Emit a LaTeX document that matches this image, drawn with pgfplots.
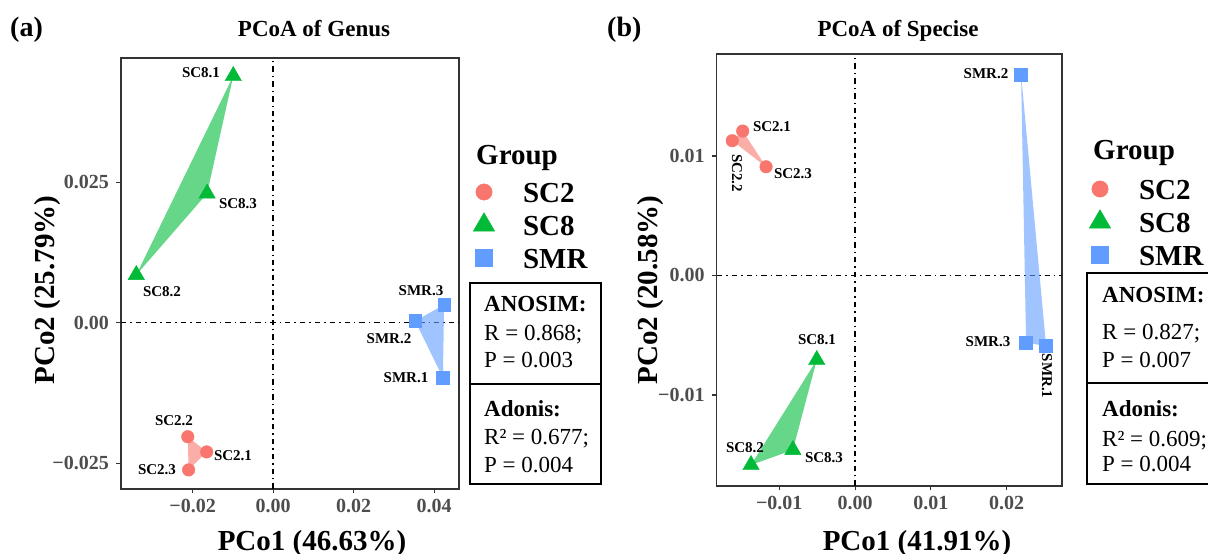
\documentclass[border=0pt]{standalone}
\usepackage{fontspec}
\setmainfont{Liberation Serif}
\usepackage{pgfplots}
\pgfplotsset{compat=1.18}
\definecolor{cSC2}{HTML}{F8766D}
\definecolor{cSC8}{HTML}{00BA38}
\definecolor{cSMR}{HTML}{619CFF}
\definecolor{tickgray}{HTML}{4D4D4D}
\definecolor{framegray}{HTML}{333333}
\newcommand{\fs}[1]{\fontsize{#1}{#1}\selectfont}
\pgfplotsset{
  pcoa/.style={
    scale only axis, clip=false, scaled ticks=false,
    axis line style={framegray, line width=1.1pt},
    tick align=outside, tick pos=left, major tick length=4.5pt,
    every tick/.style={framegray, line width=1.1pt},
    ticklabel style={font=\fs{20}\bfseries, text=tickgray, inner sep=0pt},
    xticklabel style={yshift=-5.5pt},
    yticklabel style={xshift=-7.5pt},
    legend cell align=left,
    legend image code/.code={\path[draw=none, fill=none] (-12pt,-4pt) rectangle (12pt,22pt);
      \draw[##1, mark size=1.3*\pgfplotmarksize] plot coordinates {(0pt,1pt)};},
    legend style={anchor=north west, draw=none, fill=none, inner sep=0pt, outer sep=0pt,
      row sep=-2pt, column sep=27pt, font=\fs{29}\bfseries,
      nodes={inner sep=0pt, outer sep=0pt, text height=22pt, text depth=4pt}},
  },
  hull/.style={draw=none, fill=#1, fill opacity=0.6, forget plot},
  zline/.style={black, line width=1.2pt, dash pattern=on 5.5pt off 4pt on 1.4pt off 4pt, forget plot},
}
\tikzset{plab/.style={font=\fs{15}\bfseries, inner sep=0pt},
  boxt/.style={font=\fs{23}, anchor=base west, inner sep=0pt}}
\begin{document}
\begin{tikzpicture}[x=1pt,y=1pt]
\useasboundingbox (0,0) rectangle (1208,554);
% ---------------- panel (a)
\begin{axis}[pcoa, at={(121pt,65pt)}, anchor=south west, width=338pt, height=431pt,
  xmin=-0.0378, xmax=0.0462, ymin=-0.0296, ymax=0.0471,
  xtick={-0.02,0,0.02,0.04}, xticklabels={−0.02,0.00,0.02,0.04},
  ytick={-0.025,0,0.025}, yticklabels={−0.025,0.00,0.025},
  legend style={at={(1.0385,0.7378)}}]
\addplot[zline] coordinates {(0,-0.0296) (0,0.0471)};
\addplot[zline] coordinates {(-0.0378,0) (0.0462,0)};
\addplot[hull=cSC2] coordinates {(-0.0165,-0.0230) (-0.0212,-0.0203) (-0.0210,-0.0262) (-0.0165,-0.0230)};
\addplot[hull=cSC8] coordinates {(-0.0099,0.0439) (-0.0340,0.0085) (-0.0164,0.0230) (-0.0099,0.0439)};
\addplot[hull=cSMR] coordinates {(0.0422,-0.0098) (0.0353,0.0003) (0.0425,0.0032) (0.0422,-0.0098)};
\addplot[only marks, mark=*, mark size=6.3pt, color=cSC2, fill=cSC2] coordinates {(-0.0165,-0.0230) (-0.0212,-0.0203) (-0.0210,-0.0262)};
\addlegendentry{SC2}
\addplot[only marks, mark=triangle*, mark size=9.5pt, color=cSC8, fill=cSC8] coordinates {(-0.0099,0.0439) (-0.0340,0.0085) (-0.0164,0.0230)};
\addlegendentry{SC8}
\addplot[only marks, mark=square*, mark size=6.4pt, color=cSMR, fill=cSMR] coordinates {(0.0422,-0.0098) (0.0353,0.0003) (0.0425,0.0032)};
\addlegendentry{SMR}
\end{axis}
% ---------------- panel (b)
\begin{axis}[pcoa, at={(716.7pt,68pt)}, anchor=south west, width=345.3pt, height=432pt,
  xmin=-0.01825, xmax=0.0273, ymin=-0.01762, ymax=0.01854,
  xtick={-0.01,0,0.01,0.02}, xticklabels={−0.01,0.00,0.01,0.02},
  ytick={-0.01,0,0.01}, yticklabels={−0.01,0.00,0.01},
  legend style={at={(1.0753,0.7361)}}]
\addplot[zline] coordinates {(0,-0.01762) (0,0.01854)};
\addplot[zline] coordinates {(-0.01825,0) (0.0273,0)};
\addplot[hull=cSC2] coordinates {(-0.01482,0.01209) (-0.0162,0.01128) (-0.01174,0.0091) (-0.01482,0.01209)};
\addplot[hull=cSC8] coordinates {(-0.00505,-0.00707) (-0.01372,-0.01586) (-0.0082,-0.0146) (-0.00505,-0.00707)};
\addplot[hull=cSMR] coordinates {(0.0252,-0.0059) (0.0219,0.01684) (0.02256,-0.00562) (0.0252,-0.0059)};
\addplot[only marks, mark=*, mark size=6.3pt, color=cSC2, fill=cSC2] coordinates {(-0.01482,0.01209) (-0.0162,0.01128) (-0.01174,0.0091)};
\addlegendentry{SC2}
\addplot[only marks, mark=triangle*, mark size=9.5pt, color=cSC8, fill=cSC8] coordinates {(-0.00505,-0.00707) (-0.01372,-0.01586) (-0.0082,-0.0146)};
\addlegendentry{SC8}
\addplot[only marks, mark=square*, mark size=6.4pt, color=cSMR, fill=cSMR] coordinates {(0.0252,-0.0059) (0.0219,0.01684) (0.02256,-0.00562)};
\addlegendentry{SMR}
\end{axis}
% ---------------- titles and axis titles
\node[font=\fs{28}\bfseries, anchor=base west, inner sep=0pt] at (10,517) {(a)};
\node[font=\fs{23}\bfseries, anchor=base, inner sep=0pt] at (314,517) {PCoA of Genus};
\node[font=\fs{28}\bfseries, anchor=base west, inner sep=0pt] at (607,517) {(b)};
\node[font=\fs{23}\bfseries, anchor=base, inner sep=0pt] at (898,517) {PCoA of Specise};
\node[font=\fs{29}\bfseries, anchor=base, inner sep=0pt] at (312,3) {PCo1 (46.63\%)};
\node[font=\fs{29}\bfseries, anchor=base, inner sep=0pt] at (917,3) {PCo1 (41.91\%)};
\node[font=\fs{29}\bfseries, anchor=base, inner sep=0pt, rotate=90] at (54,264) {PCo2 (25.79\%)};
\node[font=\fs{29}\bfseries, anchor=base, inner sep=0pt, rotate=90] at (657,264) {PCo2 (20.58\%)};
% ---------------- point labels (a)
\node[plab] at (201,481) {SC8.1};
\node[plab] at (238,350) {SC8.3};
\node[plab] at (162,262) {SC8.2};
\node[plab] at (421,263) {SMR.3};
\node[plab] at (389,215) {SMR.2};
\node[plab] at (406,176) {SMR.1};
\node[plab] at (174,133) {SC2.2};
\node[plab] at (233,98) {SC2.1};
\node[plab] at (157,84) {SC2.3};
% ---------------- point labels (b)
\node[plab] at (772,427) {SC2.1};
\node[plab, rotate=-90] at (737,381) {SC2.2};
\node[plab] at (793,380) {SC2.3};
\node[plab] at (817,214) {SC8.1};
\node[plab] at (824,96) {SC8.3};
\node[plab] at (745,106) {SC8.2};
\node[plab] at (988,212) {SMR.3};
\node[plab, rotate=-90] at (1047,178) {SMR.1};
\node[plab] at (986,480) {SMR.2};
% ---------------- legend titles
\node[font=\fs{29}\bfseries, anchor=base west, inner sep=0pt] at (476,389) {Group};
\node[font=\fs{29}\bfseries, anchor=base west, inner sep=0pt] at (1093,394) {Group};
% ---------------- statistic boxes
\draw[black, line width=1.3pt] (470,271) rectangle (601,70);
\draw[black, line width=1.3pt] (470,170) -- (601,170);
\node[boxt, font=\fs{23}\bfseries] at (484,242) {ANOSIM:};
\node[boxt] at (484,213) {R = 0.868;};
\node[boxt] at (484,186) {P = 0.003};
\node[boxt, font=\fs{23}\bfseries] at (484,137) {Adonis:};
\node[boxt] at (484,109) {R² = 0.677;};
\node[boxt] at (484,81) {P = 0.004};
\draw[black, line width=1.3pt] (1087,281) rectangle (1216,70);
\draw[black, line width=1.3pt] (1087,171) -- (1216,171);
\node[boxt, font=\fs{23}\bfseries] at (1102,251) {ANOSIM:};
\node[boxt] at (1102,214) {R = 0.827;};
\node[boxt] at (1102,186) {P = 0.007};
\node[boxt, font=\fs{23}\bfseries] at (1102,137) {Adonis:};
\node[boxt] at (1102,107) {R² = 0.609;};
\node[boxt] at (1102,82) {P = 0.004};
\end{tikzpicture}
\end{document}
